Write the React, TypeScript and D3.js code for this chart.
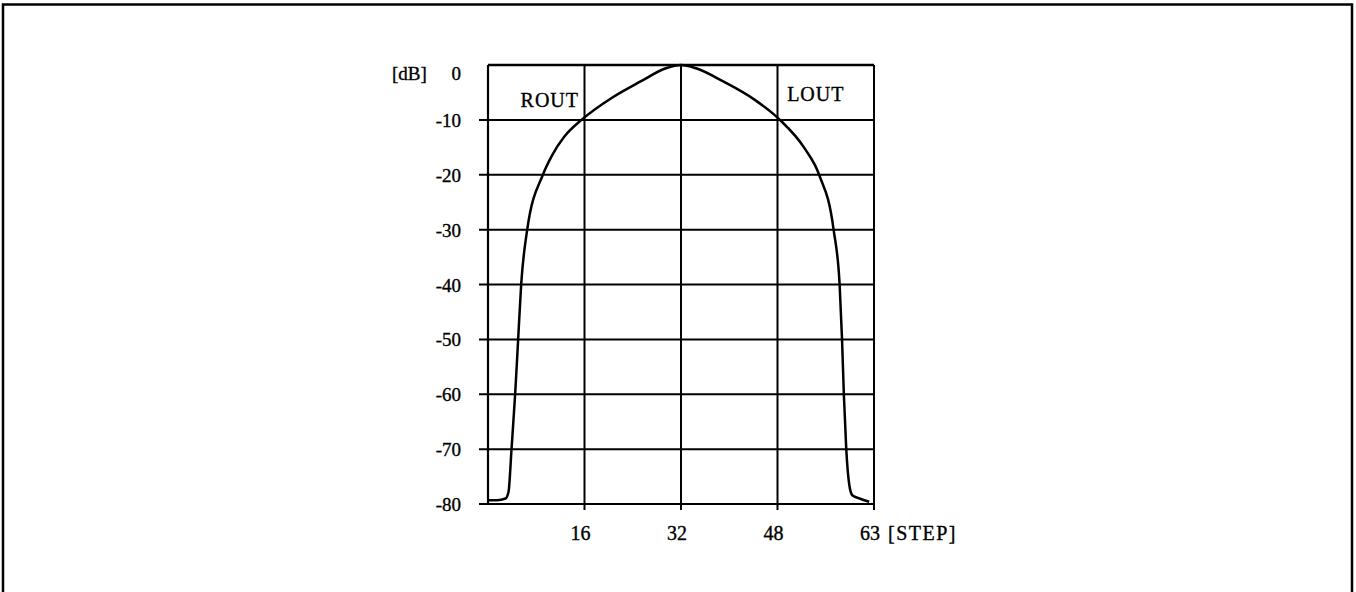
import React, { useEffect, useRef } from "react";
import * as d3 from "d3";

// one curve: ROUT falls to the left, LOUT to the right
const steps = [0, 1.5, 2.9, 3.4, 3.9, 4.5, 5.0, 5.5, 6.5, 9.1, 10.6, 12.7, 15.5, 20.5, 25.3, 29.5, 32, 34.5, 39.0, 44.3, 48.4, 52.5, 54.9, 57.3, 58.3, 58.7, 59.0, 59.4, 59.9, 60.4, 61.6, 63.2];
const levels = [-79.3, -79.3, -79.0, -77.8, -70, -60, -50, -40, -30, -20, -16.5, -13.0, -10, -6, -3, -0.6, 0, -0.6, -3, -6.4, -10, -15.2, -20, -30, -40, -50, -60, -70, -76.5, -78.4, -79.0, -79.6];

const yTicks = [0, -10, -20, -30, -40, -50, -60, -70, -80];
const xTicks = [16, 32, 48, 64];
const xTickLabels = ["16", "32", "48", "63"];
const curveLabels = [
  { text: "ROUT", step: 5.4, db: -7.6 },
  { text: "LOUT", step: 49.6, db: -6.6 },
];

const W = 1356;
const H = 592;

function Chart() {
  const ref = useRef<SVGSVGElement>(null);

  useEffect(() => {
    const svg = d3.select(ref.current);
    svg.selectAll("*").remove();

    const left = 488, right = 874, top = 65, bottom = 504;
    const x = d3.scaleLinear().domain([0, 64]).range([left, right]);
    const y = d3.scaleLinear().domain([-80, 0]).range([bottom, top]);
    const font = "'Liberation Serif', 'Times New Roman', serif";

    // frame round the page (no bottom edge)
    svg.append("path")
      .attr("d", `M3,${H} V4.5 H1352 V${H}`)
      .attr("fill", "none")
      .attr("stroke", "#000")
      .attr("stroke-width", 2.5);

    // horizontal grid, with short ticks to the left
    svg.append("g")
      .selectAll("line")
      .data(yTicks)
      .enter()
      .append("line")
      .attr("x1", (d) => (d === 0 ? left : left - 9))
      .attr("x2", right)
      .attr("y1", (d) => y(d))
      .attr("y2", (d) => y(d))
      .attr("stroke", "#000")
      .attr("stroke-width", (d) => (d === 0 ? 2.6 : 2));

    // vertical grid, with short ticks below
    svg.append("g")
      .selectAll("line")
      .data(xTicks)
      .enter()
      .append("line")
      .attr("x1", (d) => x(d))
      .attr("x2", (d) => x(d))
      .attr("y1", top)
      .attr("y2", bottom + 6)
      .attr("stroke", "#000")
      .attr("stroke-width", 2);

    svg.append("line")
      .attr("x1", left).attr("x2", left)
      .attr("y1", top).attr("y2", bottom)
      .attr("stroke", "#000")
      .attr("stroke-width", 2.2);

    const texts = svg.append("g")
      .attr("font-family", font)
      .attr("fill", "#000")
      .attr("stroke", "#000")
      .attr("stroke-width", 0.35);

    // y labels
    texts.append("g")
      .selectAll("text")
      .data(yTicks)
      .enter()
      .append("text")
      .attr("x", 461)
      .attr("y", (d) => y(d) + (d === 0 ? 15 : 7))
      .attr("text-anchor", "end")
      .attr("font-size", 19)
      .text((d) => String(d));

    texts.append("text")
      .attr("x", 392)
      .attr("y", y(0) + 15)
      .attr("font-size", 19)
      .text("[dB]");

    // x labels
    texts.append("g")
      .selectAll("text")
      .data(xTicks)
      .enter()
      .append("text")
      .attr("x", (d) => x(d) - 4)
      .attr("y", 540)
      .attr("text-anchor", "middle")
      .attr("font-size", 20)
      .text((d, i) => xTickLabels[i]);

    texts.append("text")
      .attr("x", 888)
      .attr("y", 540)
      .attr("font-size", 20)
      .attr("letter-spacing", 1.5)
      .text("[STEP]");

    texts.append("g")
      .selectAll("text")
      .data(curveLabels)
      .enter()
      .append("text")
      .attr("x", (d) => x(d.step))
      .attr("y", (d) => y(d.db))
      .attr("font-size", 20)
      .attr("letter-spacing", 1)
      .text((d) => d.text);

    const line = d3.line<number>()
      .x((d, i) => x(steps[i]))
      .y((d) => y(d))
      .curve(d3.curveMonotoneX);

    svg.append("path")
      .datum(levels)
      .attr("d", line)
      .attr("fill", "none")
      .attr("stroke", "#000")
      .attr("stroke-width", 2.5);
  }, []);

  return <svg ref={ref} width={W} height={H} style={{ display: "block" }} />;
}

export default function App() {
  return (
    <div style={{ position: "absolute", left: 0, top: 0, background: "#fff" }}>
      <Chart />
    </div>
  );
}
